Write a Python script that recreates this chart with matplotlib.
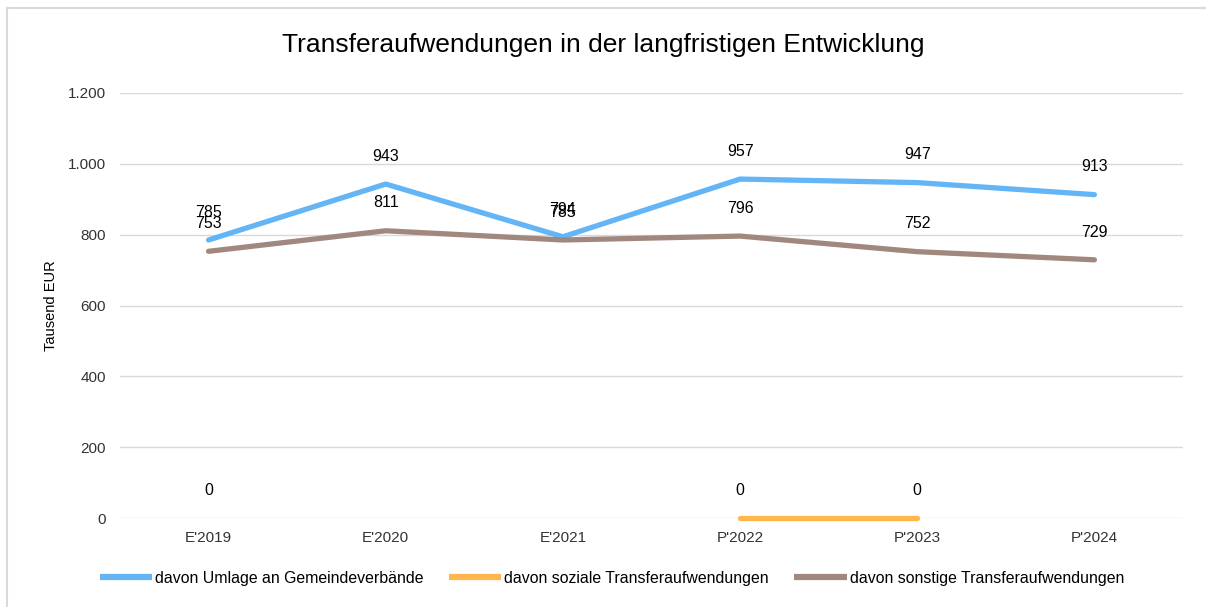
import numpy as np
import matplotlib
matplotlib.use("Agg")
import matplotlib.pyplot as plt
from matplotlib.patches import Rectangle
from matplotlib.ticker import FuncFormatter

plt.rcParams['font.family'] = ['Liberation Sans', 'DejaVu Sans']

categories = ["E'2019", "E'2020", "E'2021", "P'2022", "P'2023", "P'2024"]
umlage = [785, 943, 794, 957, 947, 913]
soziale = [0, np.nan, np.nan, 0, 0, np.nan]
sonstige = [753, 811, 785, 796, 752, 729]

series = [
    ("davon Umlage an Gemeindeverbände", umlage, "#64B5F6"),
    ("davon soziale Transferaufwendungen", soziale, "#FFB74D"),
    ("davon sonstige Transferaufwendungen", sonstige, "#A1887F"),
]

fig = plt.figure(figsize=(12.06, 6.07), dpi=100)
ax = fig.add_axes([120/1206, 1-518/607, (1183-120)/1206, (518-93)/607])

x = np.arange(len(categories))
for name, vals, col in series:
    ax.plot(x, vals, color=col, lw=3.8, label=name, solid_capstyle='round', zorder=3, clip_on=False)
    for xi, v in zip(x, vals):
        if not np.isnan(v):
            ax.annotate(f"{int(v)}", (xi, v), xytext=(0, 20), textcoords='offset points',
                        ha='center', va='center', fontsize=11.5, color='#000000', zorder=4)

ax.set_xlim(-0.5, 5.5)
ax.set_ylim(0, 1200)
ax.set_yticks(range(0, 1201, 200))
ax.yaxis.set_major_formatter(FuncFormatter(lambda v, p: f"{int(v):,}".replace(",", ".")))
ax.set_xticks(x)
ax.set_xticklabels(categories)
ax.tick_params(axis='both', length=0, labelsize=11, colors='#000000', labelcolor='#333333')
ax.tick_params(axis='x', pad=9)
ax.tick_params(axis='y', pad=10)
ax.grid(axis='y', color='#D9D9D9', lw=1)
ax.set_axisbelow(True)
for s in ax.spines.values():
    s.set_visible(False)
ax.set_ylabel("Tausend EUR", fontsize=10.5)
ax.yaxis.set_label_coords(-0.058, 0.5)

fig.text(0.5, 1-45/607, "Transferaufwendungen in der langfristigen Entwicklung",
         ha='center', va='center', fontsize=19, color='#000000')

leg = fig.legend(loc='center', bbox_to_anchor=(612/1206, 1-578/607), ncol=3, frameon=False,
                 fontsize=11.4, handlelength=3.3, handletextpad=0.2, columnspacing=1.6)
for h in leg.get_lines():
    h.set_linewidth(4.5)
    h.set_solid_capstyle('butt')

fig.patches.append(Rectangle((7/1206, -0.1), 1.2, 1.1 - 8/607 + 0.0, transform=fig.transFigure,
                             fill=False, edgecolor='#D9D9D9', lw=1.5))

fig.savefig("out.png", dpi=100)
